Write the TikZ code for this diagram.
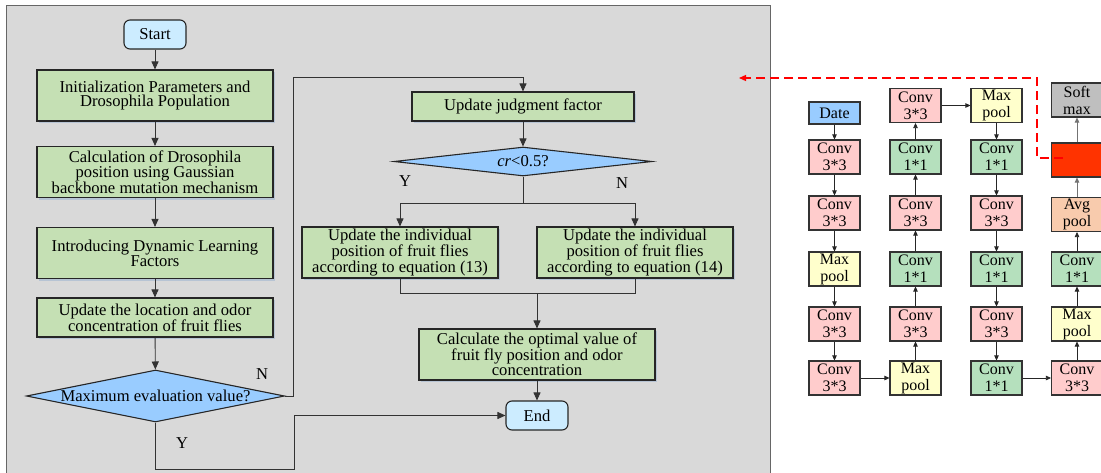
\documentclass[tikz,border=0pt]{standalone}
\usepackage{fontspec}
\setmainfont{Liberation Serif}
\usetikzlibrary{shapes.geometric,arrows.meta,shadows}

\definecolor{panelgray}{HTML}{D9D9D9}
\definecolor{procgreen}{HTML}{C5E0B4}
\definecolor{decblue}{HTML}{99CCFF}
\definecolor{termblue}{HTML}{CCECFF}
\definecolor{shadowblue}{HTML}{A9BCD3}
\definecolor{netpink}{HTML}{FFCCCC}
\definecolor{netgreen}{HTML}{B5E0BD}
\definecolor{netyellow}{HTML}{FFFFCC}
\definecolor{netpeach}{HTML}{F8CBAD}
\definecolor{netgray}{HTML}{BFBFBF}
\definecolor{netred}{HTML}{FF3300}
\definecolor{linkgray}{HTML}{333333}

\newcommand\flowfont{\fontsize{16.6}{14.8}\selectfont}
\newcommand\netfont{\fontsize{16}{17}\selectfont}

\begin{document}
\begin{tikzpicture}[x=1pt,y=-1pt,
  shadowed/.style={drop shadow={shadow xshift=2.2pt,shadow yshift=-2.2pt,fill=shadowblue,opacity=0.7}},
  procbox/.style={rectangle,draw=black!85,line width=1.1pt,fill=procgreen,align=center,
    font=\flowfont,inner sep=0pt,minimum width=236pt,minimum height=51pt,shadowed},
  termbox/.style={rectangle,rounded corners=6pt,draw=black!85,line width=1.1pt,fill=termblue,
    font=\flowfont,inner sep=0pt,minimum width=62pt,minimum height=29pt},
  decbox/.style={diamond,draw=black!85,line width=1.1pt,fill=decblue,inner sep=0pt},
  flowlbl/.style={font=\flowfont,inner sep=0pt},
  arr/.style={draw=linkgray,line width=0.9pt,-{Triangle[length=8pt,width=7pt]}},
  link/.style={draw=linkgray,line width=0.9pt},
  netbox/.style={rectangle,draw=black!80,line width=1.1pt,align=center,font=\netfont,
    inner sep=0pt,minimum width=51pt,minimum height=34pt},
  conva/.style={netbox,fill=netpink},
  convb/.style={netbox,fill=netgreen},
  poolbox/.style={netbox,fill=netyellow},
  netarr/.style={draw=black!85,line width=0.7pt,-{Triangle[length=5pt,width=4.5pt]}},
  reddash/.style={draw=red,line width=1.2pt,dash pattern=on 9pt off 5pt,-{Triangle[length=7pt,width=6pt]}}
]
\useasboundingbox (0,0) rectangle (1101,472);
\fill[white] (0,0) rectangle (1101,472);

% grey panel holding the optimisation flowchart
\draw[fill=panelgray,draw=black!60,line width=1pt] (6,5) rectangle (770,490);

% left column of the flowchart
\node[termbox] (start) at (155,34.5) {Start};
\node[procbox] (init) at (155,95.5) {Initialization Parameters and\\Drosophila Population};
\node[procbox] (calc) at (155,172) {Calculation of Drosophila\\position using Gaussian\\backbone mutation mechanism};
\node[procbox] (intro) at (155,253) {Introducing Dynamic Learning\\Factors};
\node[procbox,minimum height=39pt] (upd) at (155,317.5) {Update the location and odor\\concentration of fruit flies};
\node[decbox,minimum width=258pt,minimum height=52pt,
  label={[flowlbl]center:Maximum evaluation value?}] (maxq) at (155.5,396) {};

% right column of the flowchart
\node[procbox,minimum width=222pt,minimum height=29pt] (judge) at (523,106.5) {Update judgment factor};
\node[decbox,minimum width=258pt,minimum height=29pt,
  label={[flowlbl]center:\textit{cr}<0.5?}] (crq) at (523,161.5) {};
\node[procbox,minimum width=196pt] (eq13) at (400,252.5) {Update the individual\\position of fruit flies\\according to equation (13)};
\node[procbox,minimum width=196pt] (eq14) at (635,252.5) {Update the individual\\position of fruit flies\\according to equation (14)};
\node[procbox] (optv) at (537,354.5) {Calculate the optimal value of\\fruit fly position and odor\\concentration};
\node[termbox] (end) at (537,415.5) {End};

% routing points
\coordinate (loopTop) at (293,77);
\coordinate (yLow) at (294,469);
\coordinate (split) at (523,203);
\coordinate (merge) at (537,293);

\draw[arr] (start) -- (init);
\draw[arr] (init) -- (calc);
\draw[arr] (calc) -- (intro);
\draw[arr] (intro) -- (upd);
\draw[arr] (upd) -- (maxq);
\draw[arr] (maxq.east) -| (loopTop) -| (judge.north);
\draw[arr] (maxq.south) |- (yLow) |- (end.west);
\draw[arr] (judge) -- (crq);
\draw[link] (crq.south) -- (split);
\draw[arr] (split) -| (eq13.north);
\draw[arr] (split) -| (eq14.north);
\draw[link] (eq13.south) |- (merge);
\draw[link] (eq14.south) |- (merge);
\draw[arr] (merge) -- (optv.north);
\draw[arr] (optv) -- (end);

\node[flowlbl] (lblN1) at (262,374) {N};
\node[flowlbl] (lblY1) at (182,443) {Y};
\node[flowlbl] (lblY2) at (405,181) {Y};
\node[flowlbl] (lblN2) at (622,183) {N};

% network: column 1 (downwards)
\node[netbox,fill=decblue,minimum height=22pt] (date) at (834.5,113) {Date};
\node[conva] (a1) at (834.5,157) {Conv\\3*3};
\node[conva] (a2) at (834.5,213) {Conv\\3*3};
\node[poolbox] (a3) at (834.5,269) {Max\\pool};
\node[conva] (a4) at (834.5,324) {Conv\\3*3};
\node[conva] (a5) at (834.5,378) {Conv\\3*3};
% column 2 (upwards)
\node[poolbox] (b5) at (915.5,378) {Max\\pool};
\node[conva] (b4) at (915.5,324) {Conv\\3*3};
\node[convb] (b3) at (915.5,269) {Conv\\1*1};
\node[conva] (b2) at (915.5,213) {Conv\\3*3};
\node[convb] (b1) at (915.5,157) {Conv\\1*1};
\node[conva] (b0) at (915.5,105.5) {Conv\\3*3};
% column 3 (downwards)
\node[poolbox] (c0) at (996.5,105.5) {Max\\pool};
\node[convb] (c1) at (996.5,157) {Conv\\1*1};
\node[conva] (c2) at (996.5,213) {Conv\\3*3};
\node[convb] (c3) at (996.5,269) {Conv\\1*1};
\node[conva] (c4) at (996.5,324) {Conv\\3*3};
\node[convb] (c5) at (996.5,378) {Conv\\1*1};
% column 4 (upwards)
\node[conva] (d5) at (1077,378) {Conv\\3*3};
\node[poolbox] (d4) at (1077,324) {Max\\pool};
\node[convb] (d3) at (1077,269) {Conv\\1*1};
\node[netbox,fill=netpeach] (d2) at (1077,214.5) {Avg\\pool};
\node[netbox,fill=netred] (d1) at (1077,160) {};
\node[netbox,fill=netgray] (d0) at (1077,100) {Soft\\max};

\draw[netarr] (date) -- (a1);
\draw[netarr] (a1) -- (a2);
\draw[netarr] (a2) -- (a3);
\draw[netarr] (a3) -- (a4);
\draw[netarr] (a4) -- (a5);
\draw[netarr] (a5) -- (b5);
\draw[netarr] (b5) -- (b4);
\draw[netarr] (b4) -- (b3);
\draw[netarr] (b3) -- (b2);
\draw[netarr] (b2) -- (b1);
\draw[netarr] (b1) -- (b0);
\draw[netarr] (b0) -- (c0);
\draw[netarr] (c0) -- (c1);
\draw[netarr] (c1) -- (c2);
\draw[netarr] (c2) -- (c3);
\draw[netarr] (c3) -- (c4);
\draw[netarr] (c4) -- (c5);
\draw[netarr] (c5) -- (d5);
\draw[netarr] (d5) -- (d4);
\draw[netarr] (d4) -- (d3);
\draw[netarr] (d3) -- (d2);
\draw[netarr,draw=black!55] (d2) -- (d1);
\draw[netarr,draw=black!55] (d1) -- (d0);

% dashed link from the network back to the flowchart panel
\coordinate (dashStart) at (1063,158);
\coordinate (dashBend) at (1037,158);
\coordinate (redTip) at (739,78);
\draw[reddash] (dashStart) -- (dashBend) |- (redTip);
\end{tikzpicture}
\end{document}
